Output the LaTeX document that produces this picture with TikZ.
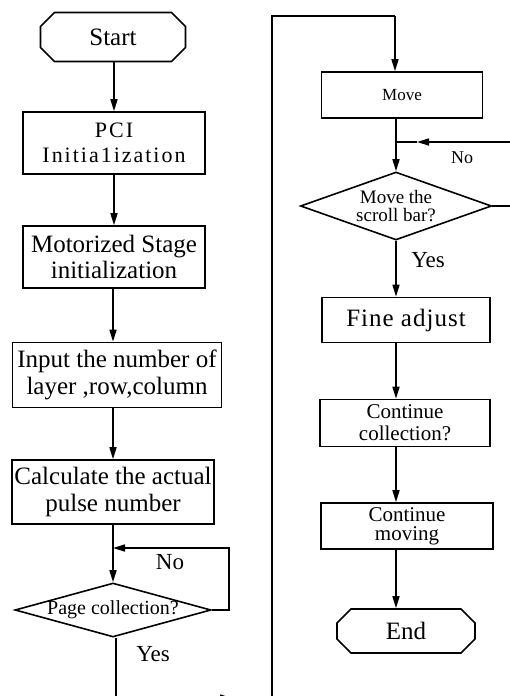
\documentclass[tikz,border=0pt]{standalone}
\usepackage{fontspec}
\setmainfont{Liberation Serif}
\usetikzlibrary{arrows.meta,shapes.misc,shapes.geometric}
\newcommand{\fs}[1]{\fontsize{#1}{#1}\selectfont}
\begin{document}
\begin{tikzpicture}[x=1pt, y=-1pt,
			box/.style={rectangle, draw, line width=1.6pt, align=center, inner sep=0pt},
			term/.style={chamfered rectangle, chamfered rectangle xsep=7pt, chamfered rectangle ysep=7pt, draw, line width=1.6pt, inner sep=0pt},
			decision/.style={diamond, draw, line width=1.6pt, align=center, inner sep=-8pt},
			lbl/.style={inner sep=0pt},
			arr/.style={-{Triangle[length=12pt,width=7pt]}, line width=1.6pt},
			line/.style={line width=1.6pt},
		]
		\useasboundingbox (0,0) rectangle (510,696);
		\clip (0,0) rectangle (510,696);

		% Left column
		\node[term, minimum width=145pt, minimum height=49pt, font=\fs{25}] (start) at (113,37) {Start};
		\node[box, minimum width=182pt, minimum height=62pt, font={\fontsize{22}{25}\selectfont\addfontfeatures{LetterSpace=9}}] (pci) at (114,143) {PCI\\Initia1ization};
		\node[box, minimum width=182pt, minimum height=62pt, font={\fontsize{25}{26}\selectfont}] (stage) at (114,257) {Motorized Stage\\initialization};
		\node[box, minimum width=209pt, minimum height=65pt, font={\fontsize{25}{27}\selectfont}] (input) at (117,375) {Input the number of\\layer ,row,column};
		\node[box, minimum width=202pt, minimum height=64pt, font={\fontsize{25}{27}\selectfont}] (calc) at (113,492) {Calculate the actual\\pulse number};
		\node[decision, aspect=3.6, minimum width=196pt, minimum height=54pt, font=\fs{20}] (page) at (113,610) {Page collection?};
		\node[lbl, font=\fs{23}] (pageno) at (170,562) {No};
		\node[lbl, font=\fs{23}] (pageyes) at (153,654) {Yes};

		% Right column
		\node[box, minimum width=161pt, minimum height=46pt, font=\fs{17}] (move) at (402,95) {Move};
		\node[decision, aspect=2.8, minimum width=191pt, minimum height=68pt, font={\fontsize{19}{18}\selectfont}] (scroll) at (396,206) {Move the\\scroll bar?};
		\node[lbl, font=\fs{18}] (scrollno) at (462,158) {No};
		\node[lbl, font=\fs{23}] (scrollyes) at (428,260) {Yes};
		\node[box, minimum width=168pt, minimum height=45pt, font={\fs{25}\addfontfeatures{LetterSpace=4}}] (fine) at (406,320) {Fine adjust};
		\node[box, minimum width=170pt, minimum height=47pt, font={\fontsize{21}{22}\selectfont}] (cont) at (405,423) {Continue\\collection?};
		\node[box, minimum width=172pt, minimum height=46pt, font={\fontsize{21}{19}\selectfont}] (moving) at (407,526) {Continue\\moving};
		\node[term, minimum width=138pt, minimum height=44pt, font=\fs{25}] (end) at (406,631) {End};

		% Turning points
		\coordinate (pagejoin) at (113,548);
		\coordinate (pageloop) at (229,548);
		\coordinate (yesbottom) at (116,698);
		\coordinate (yestip) at (232,698);
		\coordinate (crossbottom) at (272,698);
		\coordinate (crosstop) at (395,16);
		\coordinate (scrolljoin) at (395,142);
		\coordinate (scrolltip) at (417,142);
		\coordinate (scrollloop) at (515,142);
		\coordinate (scrollout) at (515,206);

		% Left chain
		\draw[arr] (start.south -| pci) -- (pci);
		\draw[arr] (pci.south -| stage) -- (stage);
		\draw[arr] (stage.south -| calc) -- (input.north -| calc);
		\draw[arr] (input.south -| calc) -- (calc);
		\draw[arr] (calc) -- (page);
		\draw[arr] (page.east) -| (pageloop) -- (pagejoin);

		% Crossing over
		\draw[line] (page.south -| yesbottom) -- (yesbottom);
		\draw[arr] (yesbottom) -- (yestip);
		\draw[line] (yestip) -- (crossbottom) |- (crosstop);
		\draw[arr] (crosstop) -- (crosstop |- move.north);

		% Right chain
		\draw[arr] (move.south -| scroll.north) -- (scroll.north);
		\draw[line] (scroll.east) -- (scrollout) -- (scrollloop);
		\draw[arr] (scrollloop) -- (scrolltip);
		\draw[line] (scrolltip) -- (scrolljoin);
		\draw[arr] (scroll.south) -- (scroll.south |- fine.north);
		\draw[arr] (fine.south -| scroll) -- (cont.north -| scroll);
		\draw[arr] (cont.south -| scroll) -- (moving.north -| scroll);
		\draw[arr] (moving.south -| scroll) -- (end.north -| scroll);

	\end{tikzpicture}
\end{document}
